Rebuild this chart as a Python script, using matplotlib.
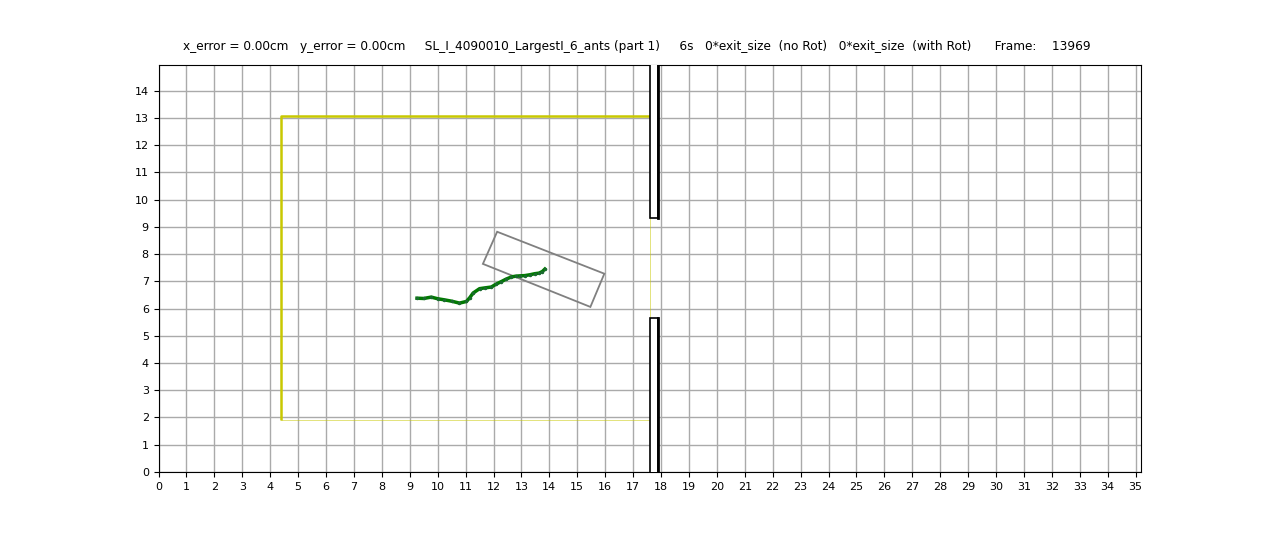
import matplotlib
matplotlib.use("Agg")
import matplotlib.pyplot as plt
from matplotlib.patches import Polygon, Rectangle
import numpy as np

# ---- data ----
traj_x = [9.26, 9.50, 9.77, 10.00, 10.24, 10.50, 10.78, 11.03, 11.15, 11.27, 11.50,
          11.70, 11.92, 12.10, 12.28, 12.45, 12.64, 12.80, 12.94, 13.12, 13.30,
          13.48, 13.63, 13.75, 13.84]
traj_y = [6.38, 6.37, 6.42, 6.36, 6.32, 6.27, 6.20, 6.26, 6.40, 6.57, 6.73,
          6.76, 6.79, 6.90, 6.99, 7.08, 7.16, 7.19, 7.20, 7.21, 7.24,
          7.28, 7.30, 7.36, 7.45]
box_x = [11.62, 12.13, 15.97, 15.47]
box_y = [7.64, 8.82, 7.28, 6.06]
yellow_x = [4.39, 17.59]
yellow_y = [1.91, 13.08]
wall_x = [17.59, 17.88]
wall_upper_y = [9.33, 16.0]
wall_lower_y = [-1.0, 5.66]
xticks = list(range(0, 36))
yticks = list(range(0, 15))
title = ("x_error = 0.00cm   y_error = 0.00cm     SL_I_4090010_LargestI_6_ants (part 1)"
         "     6s   0*exit_size  (no Rot)   0*exit_size  (with Rot)      Frame:    13969")

fig = plt.figure(figsize=(12.68, 5.4), dpi=100)
ax = fig.add_axes([0.125, 0.126, 0.775, 0.754])

ax.set_xlim(0, 35.2)
ax.set_ylim(0, 14.95)
ax.set_xticks(xticks)
ax.set_yticks(yticks)
ax.tick_params(labelsize=8)
ax.grid(True, color='#aaaaaa', linewidth=1.0)
ax.set_axisbelow(True)

# yellow boundary
ax.plot([yellow_x[0], yellow_x[0], yellow_x[1]], [yellow_y[0], yellow_y[1], yellow_y[1]],
        color='#c8c800', linewidth=1.8, solid_capstyle='butt', zorder=3)
ax.plot([yellow_x[0], yellow_x[1], yellow_x[1]], [yellow_y[0], yellow_y[0], yellow_y[1]],
        color='#c8c800', linewidth=0.6, alpha=0.6, zorder=3)

# walls
for ys in (wall_upper_y, wall_lower_y):
    r = Rectangle((wall_x[0], ys[0]), wall_x[1] - wall_x[0], ys[1] - ys[0],
                  facecolor='white', edgecolor='black', linewidth=1.2, zorder=4)
    ax.add_patch(r)
    ax.plot([wall_x[1], wall_x[1]], ys, color='black', linewidth=2, zorder=5)

# gray box
ax.add_patch(Polygon(np.column_stack([box_x, box_y]), closed=True, fill=False,
                     edgecolor='#808080', linewidth=1.3, zorder=5))

# trajectory
ax.plot(traj_x, traj_y, color='#007a00', linewidth=2.5, marker='.', markersize=3,
        markerfacecolor='#1a6a30', markeredgecolor='#1a6a30', zorder=6)

fig.text(0.502, 0.914, title, ha='center', va='center', fontsize=8.7)

fig.savefig('out.png', dpi=100)
